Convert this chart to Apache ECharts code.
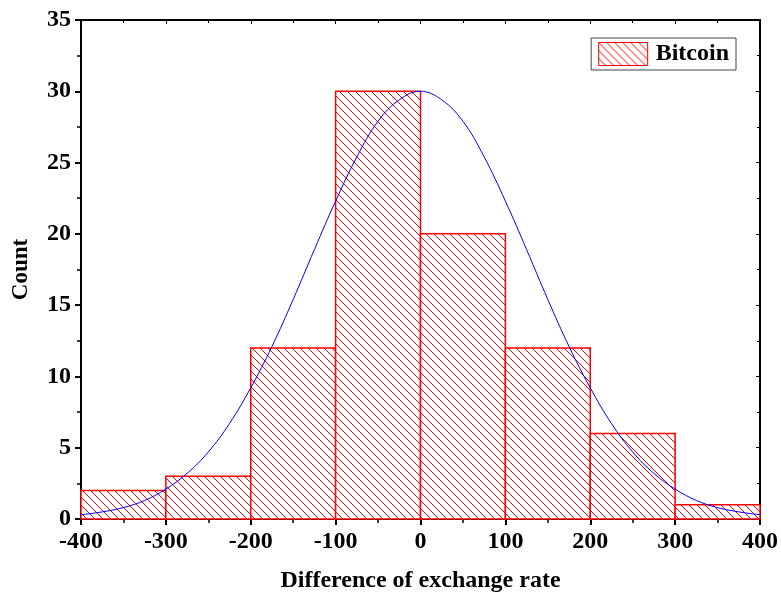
<!DOCTYPE html>
<html>
<head>
<meta charset="utf-8">
<script src="https://cdn.jsdelivr.net/npm/echarts@6/dist/echarts.min.js"></script>
<style>
  html, body { margin: 0; padding: 0; background: #fff; }
  #main { width: 781px; height: 598px; }
</style>
</head>
<body>
<div id="main"></div>
<script>
// histogram bins and counts
var binStart = [-400, -300, -200, -100, 0, 100, 200, 300];
var binEnd = [-300, -200, -100, 0, 100, 200, 300, 400];
var counts = [2, 3, 12, 30, 20, 12, 6, 1];

// fitted curve
var curveX = [-400, -375, -350, -325, -300, -275, -250, -225, -200, -175, -150, -125, -100, -75, -50, -25, 0,
              25, 50, 75, 100, 125, 150, 175, 200, 225, 250, 275, 300, 325, 350, 375, 400];
var curveY = [0.3, 0.5, 0.8, 1.3, 2.1, 3.2, 4.7, 6.7, 9.2, 12.1, 15.4, 18.9, 22.3, 25.4, 27.9, 29.4, 30,
              29.4, 27.9, 25.4, 22.3, 18.9, 15.4, 12.1, 9.2, 6.7, 4.7, 3.2, 2.1, 1.3, 0.8, 0.5, 0.3];

var xTicks = [-400, -300, -200, -100, 0, 100, 200, 300, 400];

var font = '"Liberation Serif", "Times New Roman", serif';

// hatch pattern
var tile = document.createElement('canvas');
tile.width = 8; tile.height = 8;
var ctx = tile.getContext('2d');
ctx.fillStyle = '#fff';
ctx.fillRect(0, 0, 8, 8);
ctx.strokeStyle = '#ff0000';
ctx.lineWidth = 1;
ctx.beginPath();
ctx.moveTo(0, 0); ctx.lineTo(8, 8);
ctx.moveTo(-1, 7); ctx.lineTo(1, 9);
ctx.moveTo(7, -1); ctx.lineTo(9, 1);
ctx.stroke();
var hatch = { image: tile, repeat: 'repeat' };

var histData = binStart.map(function (s, i) { return [s, binEnd[i], counts[i]]; });
var lineData = curveX.map(function (x, i) { return [x, curveY[i]]; });

var myChart = echarts.init(document.getElementById('main'));

var axisLine = { show: true, onZero: false, lineStyle: { color: '#000', width: 2 } };

var option = {
    animation: false,
    backgroundColor: '#fff',
    grid: { left: 81, right: 18, top: 20, bottom: 79 },
    legend: {
        right: 45, top: 38,
        orient: 'vertical',
        padding: [4, 7, 4, 7],
        borderColor: '#444',
        borderWidth: 1,
        borderRadius: 0,
        itemWidth: 49, itemHeight: 23,
        itemGap: 5,
        textStyle: { fontFamily: font, fontWeight: 'bold', fontSize: 24, color: '#000', padding: [0, 0, 0, 3] },
        data: [{ name: 'Bitcoin', icon: 'rect', itemStyle: { color: hatch, borderColor: '#ff0000', borderWidth: 1 } }]
    },
    xAxis: [{
        type: 'value', min: -400, max: 400, interval: 100, position: 'bottom',
        name: 'Difference of exchange rate', nameLocation: 'middle', nameGap: 50,
        nameTextStyle: { fontFamily: font, fontWeight: 'bold', fontSize: 24, color: '#000' },
        axisLine: axisLine,
        axisTick: { show: true, inside: false, length: 6, lineStyle: { width: 2, color: '#000' } },
        minorTick: { show: true, splitNumber: 2, length: 4, lineStyle: { width: 1.5, color: '#000' } },
        axisLabel: {
            fontFamily: font, fontWeight: 'bold', fontSize: 24, color: '#000', margin: 11,
            formatter: function (v) { return xTicks.indexOf(v) >= 0 ? String(v) : ''; }
        },
        splitLine: { show: false }
    }, {
        type: 'value', min: -400, max: 400, interval: 100, position: 'top',
        axisLine: axisLine,
        axisTick: { show: true, inside: true, length: 4, lineStyle: { width: 1, color: '#000' } },
        minorTick: { show: true, splitNumber: 2, length: 3, lineStyle: { width: 1, color: '#000' } },
        axisLabel: { show: false },
        splitLine: { show: false }
    }],
    yAxis: [{
        type: 'value', min: 0, max: 35, interval: 5, position: 'left',
        name: 'Count', nameLocation: 'middle', nameGap: 48, nameRotate: 90,
        nameTextStyle: { fontFamily: font, fontWeight: 'bold', fontSize: 23, color: '#000' },
        axisLine: axisLine,
        axisTick: { show: true, inside: false, length: 6, lineStyle: { width: 2, color: '#000' } },
        minorTick: { show: true, splitNumber: 2, length: 4, lineStyle: { width: 1.5, color: '#000' } },
        axisLabel: { fontFamily: font, fontWeight: 'bold', fontSize: 24, color: '#000', margin: 10 },
        splitLine: { show: false }
    }, {
        type: 'value', min: 0, max: 35, interval: 5, position: 'right',
        axisLine: axisLine,
        axisTick: { show: true, inside: true, length: 4, lineStyle: { width: 1, color: '#000' } },
        minorTick: { show: true, splitNumber: 2, length: 3, lineStyle: { width: 1, color: '#000' } },
        axisLabel: { show: false },
        splitLine: { show: false }
    }],
    series: [{
        name: 'Bitcoin',
        type: 'custom',
        xAxisIndex: 0, yAxisIndex: 0,
        itemStyle: { color: hatch, borderColor: '#ff0000' },
        encode: { x: [0, 1], y: 2 },
        renderItem: function (params, api) {
            var p0 = api.coord([api.value(0), api.value(2)]);
            var p1 = api.coord([api.value(1), 0]);
            return {
                type: 'rect',
                shape: { x: p0[0], y: p0[1], width: p1[0] - p0[0], height: p1[1] - p0[1] },
                style: { fill: hatch, stroke: '#ff0000', lineWidth: 1.5 }
            };
        },
        data: histData,
        z: 2
    }, {
        name: 'Fit',
        type: 'line',
        xAxisIndex: 0, yAxisIndex: 0,
        smooth: 0.4,
        showSymbol: false,
        lineStyle: { color: '#0000ff', width: 1 },
        data: lineData,
        z: 3
    }]
};

myChart.setOption(option);
</script>
</body>
</html>
